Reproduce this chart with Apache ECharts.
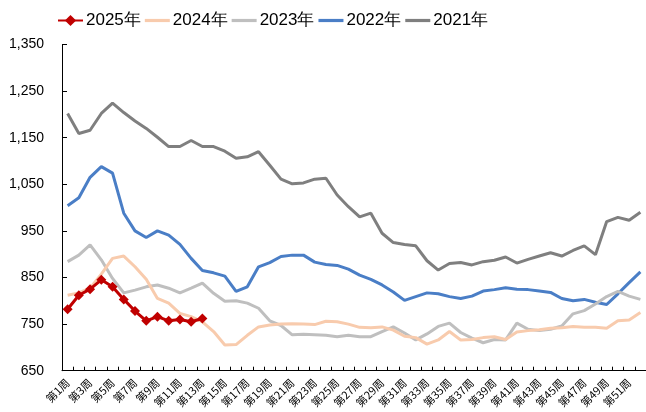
<!DOCTYPE html>
<html>
<head>
<meta charset="utf-8">
<script src="https://cdn.jsdelivr.net/npm/echarts@6/dist/echarts.min.js"></script>
<style>
html,body{margin:0;padding:0;background:#fff;}
#chart{width:646px;height:412px;}
</style>
</head>
<body>
<div id="chart"></div>
<script>
var weeks = [];
for (var i = 1; i <= 52; i++) { weeks.push('第' + i + '周'); }

var yTicks = [650, 750, 850, 950, 1050, 1150, 1250, 1350];

var s2025 = [782, 812, 825, 845, 830, 803, 778, 757, 766, 757, 760, 755, 762];

var s2024 = [812, 817, 827, 857, 891, 896, 873, 846, 805, 795, 773, 766, 755, 734, 705, 706, 726, 744, 748, 750,
             751, 750, 749, 756, 755, 750, 743, 742, 744, 737, 724, 721, 707, 716, 734, 716, 717, 721, 723, 717,
             733, 736, 738, 741, 742, 745, 743, 743, 741, 757, 759, 775];

var s2023 = [884, 898, 920, 888, 848, 817, 823, 830, 834, 827, 817, 827, 838, 816, 799, 800, 795, 784, 757, 747,
             727, 728, 727, 726, 723, 726, 723, 723, 734, 744, 731, 716, 729, 745, 752, 732, 720, 710, 717, 716,
             752, 739, 736, 739, 746, 772, 779, 793, 809, 820, 810, 803];

var s2022 = [1004, 1021, 1065, 1088, 1074, 988, 950, 936, 950, 941, 921, 891, 865, 860, 853, 820, 830, 873, 882, 895,
             898, 898, 883, 878, 876, 868, 855, 846, 834, 819, 801, 809, 817, 815, 809, 805, 810, 821, 824, 828,
             825, 824, 821, 818, 805, 800, 803, 797, 792, 815, 839, 862];

var s2021 = [1202, 1159, 1166, 1202, 1224, 1204, 1186, 1170, 1151, 1131, 1131, 1144, 1131, 1131, 1121, 1106, 1109, 1120, 1091, 1061,
             1051, 1053, 1061, 1063, 1027, 1002, 980, 988, 945, 925, 921, 918, 886, 866, 880, 882, 877, 884, 887, 894,
             881, 889, 896, 903, 896, 908, 918, 899, 970, 979, 973, 990];

var names = ['2025年', '2024年', '2023年', '2022年', '2021年'];
var colors = {'2025年': '#C00000', '2024年': '#F8CBAD', '2023年': '#BFBFBF', '2022年': '#4A7EC6', '2021年': '#7F7F7F'};
var lineIcon = 'path://M0,0L25,0L25,3.2L0,3.2Z';

function lineSeries(name, data) {
  return {
    name: name, type: 'line', data: data, symbol: 'none', smooth: false,
    lineStyle: {color: colors[name], width: 3},
    itemStyle: {color: colors[name]},
    emphasis: {disabled: true}, animation: false
  };
}

var legendData = names.map(function (n) {
  return n === '2025年' ? {name: n} : {name: n, icon: lineIcon};
});

var chart = echarts.init(document.getElementById('chart'), null, {renderer: 'canvas'});
chart.setOption({
  animation: false,
  backgroundColor: '#ffffff',
  legend: {
    data: legendData,
    left: 52, top: 7,
    itemWidth: 25, itemHeight: 14, itemGap: 4,
    textStyle: {fontFamily: "'Liberation Sans', sans-serif", fontSize: 17, color: '#000', padding: [0, 0, 0, -2]}
  },
  grid: {left: 62, right: 0, top: 44.5, bottom: 41.3},
  xAxis: {
    type: 'category', data: weeks, boundaryGap: true,
    axisLine: {lineStyle: {color: '#000', width: 1}},
    axisTick: {show: true, inside: true, interval: 0, length: 4, lineStyle: {color: '#000'}},
    axisLabel: {interval: 1, rotate: 45, fontSize: 11, color: '#000', margin: 10,
                fontFamily: "'Noto Sans CJK SC', sans-serif"}
  },
  yAxis: {
    type: 'value', min: 650, max: 1350,
    splitLine: {show: false},
    axisLine: {show: true, lineStyle: {color: '#000', width: 1}},
    axisTick: {show: true, inside: true, length: 5, customValues: yTicks, lineStyle: {color: '#000'}},
    axisLabel: {customValues: yTicks, fontSize: 14, color: '#000', margin: 18,
                fontFamily: "'Liberation Sans', sans-serif",
                formatter: function (v) { return v.toLocaleString('en-US'); }}
  },
  series: [
    lineSeries('2021年', s2021),
    lineSeries('2022年', s2022),
    lineSeries('2023年', s2023),
    lineSeries('2024年', s2024),
    {
      name: '2025年', type: 'line', data: s2025,
      symbol: 'diamond', symbolSize: 10, showSymbol: true, showAllSymbol: true,
      lineStyle: {color: colors['2025年'], width: 3},
      itemStyle: {color: colors['2025年']},
      emphasis: {disabled: true}, animation: false
    }
  ]
});
</script>
</body>
</html>
